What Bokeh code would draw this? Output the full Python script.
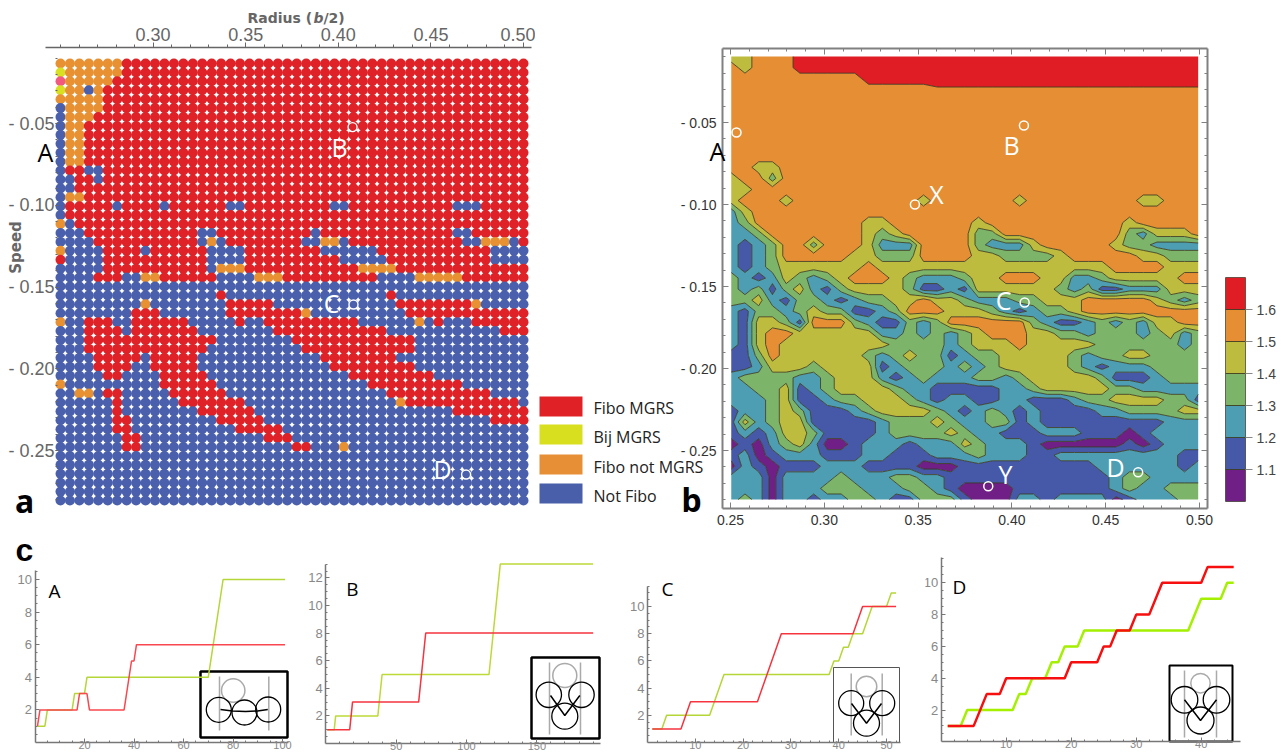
from math import pi
import numpy as np
from bokeh.embed import file_html
from bokeh.resources import INLINE
from bokeh.layouts import column, row
from bokeh.plotting import figure
from bokeh.models import (Range1d, FixedTicker, LinearAxis, Label, CustomLabelingPolicy)

# ---------------- panel a: class of each (speed, radius) sample ----------------
DOT_ROWS = [
 "R O:0-6", "R Y:0 O:1-6", "R P:0 O:1-5", "R Y:0 O:1-2 B:3 O:4", "R O:0-4",
 "R B:0 O:1-4", "R B:0 O:1-3", "R B:0 O:1-2", "R B:0 O:1-2", "R B:0 O:1-2",
 "R B:0 O:1-2", "R B:0 O:1-2", "R B:0,3-4", "R B:0-1,4", "R B:0-1",
 "R B:0 O:1-2", "R B:0,6,11,18-19,29-30,42-44", "R B:0", "R O:0 B:1",
 "R B:0-2,15-16,27,42-43",
 "R B:0-3,15,17,26-27,30,43-44,48 O:16,28-29,45-47",
 "R O:0 B:1-4,9,16-19,28-33,46-49",
 "R B:1-4,16-19,30-34,46-49",
 "R B:0-4,16 O:17-19,32-35",
 "R B:0-3,7-8,17-20,34-37 O:9-10,21-23,38-42",
 "B", "B R:17,35", "B O:9,44 R:18-22,36-43",
 "B R:8-10,18-25,37-49 O:26",
 "B O:0,38 R:3-5,8-13,19,22-31,40,44-49",
 "B R:3-6,8-14,23-34,47-49", "B R:3-16,25-37", "B R:3-15,26-37",
 "B R:4-8,10-14,28-35", "B R:4-7,10-14,29-37", "B R:5-6,11-15,31-39",
 "B O:0 R:11-16,33-42", "B O:2-3 R:5-6,12-17,35-45",
 "B O:36 R:6,13-19,37-48", "B R:6,15-20,42-49", "B R:6-7,17-21,46-49",
 "B R:6-7,19-23", "B R:7-8,22-24", "B O:30 R:7-8,25-26",
 "B", "B", "B", "B", "B", "B",
]
DOT_COLORS = {"R": "#DF2228", "Y": "#D9E021", "O": "#E89133", "B": "#4A60AC", "P": "#F15A7E"}
LEGEND_LABELS = ["Fibo MGRS", "Bij MGRS", "Fibo not MGRS", "Not Fibo"]
LEGEND_COLORS = ["#E02227", "#D7DF1F", "#E78F36", "#495FAA"]
RADIUS_A = np.linspace(0.25, 0.50, 50)
SPEED_A = np.linspace(-0.0133, -0.2806, 50)
POINTS_A = {"B": (0.4077, -0.0522), "C": (0.4082, -0.1607), "D": (0.4690, -0.2647)}

# ---------------- panel b: mean value band read at each grid node ----------------
BAND_ROWS = [
 "44555666666666666666666666666666666", "54555666666666666666666666666666666",
 "55555555556666677777777777777777777", "55555555555555555555555555555555555",
 "55555555555555555555555555555555555", "55555555555555555555555555555555555",
 "55555555555555555555555555555555555", "55555555555555555555555555555555555",
 "55555555555555555555555555555555555", "55555555555555555555555555555555555",
 "55445555555555555555555555555555555", "45535555555555555555555555555555555",
 "44555555555555555555555555555555555", "45554555555555455555545555555544555",
 "24555555555555555555555555555555555", "23555555554455555545555555555455555",
 "22355555554345555533555555555324445", "21235535554222555532224555554332222",
 "21235555544333555544333345555544333", "21234444445444444444444444445555444",
 "32124323455543222344555442234444455",
 "32313421344443112144444432311222444", "33421332123344544322233444555554323",
 "21332343311235554443212334555555555", "21443155532113235555553211232324455",
 "21455444444223232345554433233323423",
 "21454444444433332344454444433333323", "11354444443234331233444443233443333",
 "11244434444123332323444443212223333", "23333223444212322233234444431112333",
 "22334123444432211111223444443322222", "22234112334443212211221112334444331",
 "12234311123444432123212111122333344", "14234411111233343223312111111111222",
 "12124431111233334322111222111012222", "01023420012221222432221000000101222",
 "12012221112211122232221122222222211", "02101112221111000111111111122222212",
 "22202222322233221111111111112332222", "22202223332223321000011111112322333",
 "23202212233211333100022122220122233",
]
BAND_LEVELS = [1.0, 1.1, 1.2, 1.3, 1.4, 1.5, 1.6, 1.9]
BAND_COLORS = ["#6F1F85", "#4559A8", "#4D9EB3", "#7CB56A", "#BDBC3F", "#E58E33", "#E01D24"]
BAR_LEVELS = [1.0, 1.1, 1.2, 1.3, 1.4, 1.5, 1.6, 1.7]
RADIUS_B = np.linspace(0.2504, 0.4993, 35)
SPEED_B = np.linspace(-0.0098, -0.2799, 41)
POINTS_B = {"A": (0.2532, -0.0561), "B": (0.4064, -0.0518), "X": (0.3483, -0.1000),
            "C": (0.4068, -0.1598), "D": (0.4673, -0.2633), "Y": (0.3874, -0.2718)}

# ---------------- panel c: step curves ----------------
A_GREEN = ([1, 4, 5, 15, 16, 20, 21, 70, 76, 101], [1, 1, 2, 2, 3, 3, 4, 4, 10, 10])
A_RED = ([1, 2, 17, 18, 21, 22, 36, 39, 40, 41, 101], [1, 2, 2, 3, 3, 2, 2, 5, 5, 6, 6])
B_GREEN = ([1, 6, 7, 37, 40, 116, 124, 190], [1, 1, 2, 2, 5, 5, 13, 13])
B_RED = ([1, 17, 19, 66, 71, 190], [1, 1, 3, 3, 8, 8])
C_GREEN = ([1, 3, 4, 13, 16, 38, 39, 40, 41, 42, 43, 45, 47, 50, 51, 52],
           [1, 1, 2, 2, 5, 5, 6, 6, 7, 7, 8, 8, 10, 10, 11, 11])
C_RED = ([1, 7, 9, 23, 28, 43, 45, 52], [1, 1, 3, 3, 8, 8, 10, 10])
D_GREEN = ([1, 3, 4, 11, 12, 13, 14, 16, 17, 18, 19, 21, 22, 38, 40, 43, 44, 45],
           [1, 1, 2, 2, 3, 3, 4, 4, 5, 5, 6, 6, 7, 7, 9, 9, 10, 10])
D_RED = ([1, 5, 7, 9, 10, 19, 20, 24, 25, 26, 27, 29, 30, 32, 34, 40, 41, 45],
         [1, 1, 3, 3, 4, 4, 5, 5, 6, 6, 7, 7, 8, 8, 10, 10, 11, 11])

F_SANS = "Liberation Sans"
F_TXT = "Open Sans"
GRAY = "#666666"
NO_LABELS = CustomLabelingPolicy(code="for (const i of Array.from(indices)) indices.unset(i); return indices")


def parse_row(spec):
    parts = spec.split()
    cells = [parts[0]] * 50
    for part in parts[1:]:
        cat, spans = part.split(":")
        for span in spans.split(","):
            a, _, b = span.partition("-")
            for j in range(int(a), int(b or a) + 1):
                cells[j] = cat
    return cells


class Panel:
    """Figure whose plotting frame fills its whole canvas; the axes sit at fixed places inside it."""
    def __init__(self, canvas, xmap, ymap):
        self.xmap, self.ymap = xmap, ymap      # (data, px, px_per_unit), y grows downward
        self.cx0, self.cy0, cx1, cy1 = canvas
        self.p = figure(width=cx1 - self.cx0, height=cy1 - self.cy0,
                        x_range=Range1d(self.dx(self.cx0), self.dx(cx1)),
                        y_range=Range1d(self.dy(cy1), self.dy(self.cy0)),
                        min_border=0,
                        toolbar_location=None, output_backend="svg", tools="",
                        x_axis_type=None, y_axis_type=None, frame_align=False)
        self.p.outline_line_color = None
        self.p.grid.visible = False

    def dx(self, px):
        d, p0, k = self.xmap
        return d + (px - p0) / k

    def dy(self, py):
        d, p0, k = self.ymap
        return d - (py - p0) / k

    def label(self, px, py, text, size=25, color="black", font=F_TXT, style="normal",
              align="center", angle=0):
        self.p.add_layout(Label(x=self.dx(px), y=self.dy(py),
                                text=text, text_font=font,
                                text_font_size=f"{size}px", text_color=color,
                                text_font_style=style, text_align=align,
                                text_baseline="middle", angle=angle))

    def axis(self, side, at_px, span_px, ticks, minor, **kw):
        horizontal = side in ("above", "below")
        loc = self.dy(at_px) if horizontal else self.dx(at_px)
        conv = self.dx if horizontal else self.dy
        lo, hi = sorted((conv(span_px[0]), conv(span_px[1])))
        ax = LinearAxis(ticker=FixedTicker(ticks=ticks, minor_ticks=minor), fixed_location=loc,
                        bounds=(lo, hi), major_label_text_font=F_SANS, **kw)
        self.p.add_layout(ax, side)
        return ax


# ---------------- panel a ----------------
A = Panel((0, 0, 535, 530), (0.25, 60, 1852), (0.0, 41.25, 1635))
pa = A.p
xs, ys, cs = [], [], []
for i, spec in enumerate(DOT_ROWS):
    for j, c in enumerate(parse_row(spec)):
        xs.append(RADIUS_A[j]); ys.append(SPEED_A[i]); cs.append(DOT_COLORS[c])
pa.scatter(xs, ys, marker="circle", size=10, fill_color=cs, line_color=None)
ptx = [v[0] for v in POINTS_A.values()]
pty = [v[1] for v in POINTS_A.values()]
pa.scatter(ptx, pty, marker="circle", size=9, fill_color=None, line_color="white", line_width=1.4)

RAD_TICKS = [0.25, 0.30, 0.35, 0.40, 0.45, 0.50]
RAD_MINOR = [round(0.25 + 0.01 * k, 2) for k in range(26)]
RAD_TEXT = {t: f"{t:.2f}" for t in RAD_TICKS}
SPD_TICKS = [-0.05, -0.10, -0.15, -0.20, -0.25]
SPD_MINOR = [round(-0.01 * k, 2) for k in range(1, 29)]
SPD_TEXT = {t: f"- {abs(t):.2f}" for t in SPD_TICKS}

A.axis("above", 47, (45, 531), RAD_TICKS[1:], RAD_MINOR, major_label_overrides=RAD_TEXT,
       major_label_text_font_size="18px", major_label_text_color=GRAY, major_label_standoff=2,
       axis_line_color=GRAY, axis_line_width=1.5, major_tick_line_color=GRAY, minor_tick_line_color=GRAY,
       major_tick_in=0, major_tick_out=5, minor_tick_in=0, minor_tick_out=3)
A.axis("left", 55, (47, 507), SPD_TICKS, SPD_MINOR, major_label_overrides=SPD_TEXT,
       major_label_text_font_size="18px", major_label_text_color=GRAY, major_label_standoff=1,
       axis_line_color=None, major_tick_line_color=GRAY, minor_tick_line_color=GRAY,
       major_tick_in=3, major_tick_out=0, minor_tick_in=2, minor_tick_out=0)
A.label(247, 17, "Radius (", 14, GRAY, "DejaVu Sans", "bold", "left")
A.label(313, 17, "b", 14, GRAY, "DejaVu Sans", "bold italic", "left")
A.label(323, 17, "/2)", 14, GRAY, "DejaVu Sans", "bold", "left")
A.label(15, 247, "Speed", 15, GRAY, "DejaVu Sans", "bold", angle=pi / 2)
A.label(45, 151, "A")
A.label(339, 146, "B", color="white")
A.label(331, 302, "C", color="white")
A.label(442, 468, "D", color="white")
A.label(24, 500, "a", 32, style="bold", font="Noto Sans")

# ---------------- panel b (with the legend of panel a in its left margin) ----------------
B_ = Panel((535, 0, 1215, 530), (0.25, 730, 1876), (-0.05, 122, 1640))
pb = B_.p
z = 1.05 + 0.1 * np.array([[int(ch) for ch in r] for r in BAND_ROWS], dtype=float)
pb.contour(RADIUS_B, SPEED_B[::-1], z[::-1], BAND_LEVELS, fill_color=BAND_COLORS,
           line_color="#3A3A1E", line_alpha=0.85, line_width=1)
ptx = [v[0] for v in POINTS_B.values()]
pty = [v[1] for v in POINTS_B.values()]
pb.scatter(ptx, pty, marker="circle", size=9, fill_color=None, line_color="white", line_width=1.5)

BOX = "#808080"
FRAME_STYLE = dict(axis_line_color=BOX, axis_line_width=2, major_tick_line_color=BOX, minor_tick_line_color=BOX,
                   major_tick_in=6, major_tick_out=0, minor_tick_in=3, minor_tick_out=0,
                   major_label_text_font_size="14px", major_label_text_color="#333333", major_label_standoff=6)
B_.axis("above", 48, (722, 1207), RAD_TICKS, RAD_MINOR, major_label_policy=NO_LABELS, **FRAME_STYLE)
B_.axis("below", 508, (722, 1207), RAD_TICKS, RAD_MINOR, major_label_overrides=RAD_TEXT, **FRAME_STYLE)
B_.axis("left", 722, (48, 508), SPD_TICKS, SPD_MINOR, major_label_overrides=SPD_TEXT, **FRAME_STYLE)
B_.axis("right", 1207, (48, 508), SPD_TICKS, SPD_MINOR, major_label_policy=NO_LABELS, **FRAME_STYLE)
B_.label(717, 150, "A")
for name, (px, py) in {"B": (1011, 144), "X": (936, 193), "C": (1003, 299),
                       "D": (1115, 466), "Y": (1005, 473)}.items():
    B_.label(px, py, name, color="white")
B_.label(691, 499, "b", 32, style="bold", font="Noto Sans")

LEG_TOP = [396, 424, 454, 483]
LEG_TEXT_Y = [407, 436, 466, 495]
for t, ty, name, col in zip(LEG_TOP, LEG_TEXT_Y, LEGEND_LABELS, LEGEND_COLORS):
    pb.quad(left=B_.dx(539), right=B_.dx(582), top=B_.dy(t), bottom=B_.dy(t + 20),
            fill_color=col, line_color=None)
    B_.label(593, ty, name, 16, "#222222", align="left")

# ---------------- colour bar ----------------
cb = figure(width=70, height=530, x_range=Range1d(0, 1), y_range=Range1d(BAR_LEVELS[0], BAR_LEVELS[-1]),
            min_border_left=10, min_border_right=40, min_border_top=277, min_border_bottom=29,
            toolbar_location=None, output_backend="svg", tools="", x_axis_type=None, y_axis_type=None,
            frame_align=False)
cb.grid.visible = False
cb.outline_line_color = "#777777"
cb.quad(left=0, right=1, bottom=BAR_LEVELS[:-1], top=BAR_LEVELS[1:], fill_color=BAND_COLORS,
        line_color="#3A3A1E", line_alpha=0.8)
cb.add_layout(LinearAxis(ticker=FixedTicker(ticks=BAR_LEVELS[1:-1]), axis_line_color=None,
                         major_tick_line_color="#888888", major_tick_in=0, major_tick_out=7,
                         minor_tick_line_color=None, major_label_standoff=4,
                         major_label_text_font=F_SANS, major_label_text_font_size="14px",
                         major_label_text_color="#444444"), "right")

# ---------------- panel c ----------------
INSETS = {
 "A": dict(box=(200, 671, 287, 737), bw=2.5, edge="black",
           gray=(232.7, 690, 11.7), black=[(218.3, 709.3, 12.5), (244, 712, 12.5), (267.7, 709, 12.5)],
           rails=(219, 268.3, 676, 730), wire=[(220, 709), (232, 710.5), (245, 711), (257, 710.5), (267.3, 709)]),
 "B": dict(box=(531, 657, 599, 738), bw=2.5, edge="black",
           gray=(564.3, 675, 12), black=[(548.3, 694.3, 12.7), (581, 694.3, 12.7), (564.3, 715.7, 13)],
           rails=(549, 580, 662, 734), wire=[(550, 695), (564.3, 715), (579.3, 695)]),
 "C": dict(box=(833, 667, 899, 742), bw=1, edge="#555555",
           gray=(866, 686, 10.3), black=[(850.7, 702.7, 12.5), (881.7, 702.7, 12.5), (866, 722.7, 13)],
           rails=(850.7, 881.7, 673, 735), wire=[(851, 703), (866, 722.7), (881, 703)]),
 "D": dict(box=(1169, 665, 1232, 741), bw=2, edge="black",
           gray=(1200, 682.7, 9.7), black=[(1184, 699.3, 13.3), (1216, 699.3, 13.3), (1200, 720, 13.5)],
           rails=(1184, 1216, 670, 737), wire=[(1184, 699.3), (1200, 720), (1216, 699.3)]),
}

def step_panel(name, canvas, xmap, ymap, xticks, xminor, yticks, xend, yend,
               green, red, gcol, rcol, lw, letter_at):
    P = Panel(canvas, xmap, ymap)
    p = P.p
    ins = INSETS[name]
    b = ins["box"]
    p.quad(left=P.dx(b[0]), right=P.dx(b[2]), top=P.dy(b[1]), bottom=P.dy(b[3]), fill_color="white",
           line_color=ins["edge"], line_width=ins["bw"])
    for rx in ins["rails"][:2]:
        p.line([P.dx(rx)] * 2, [P.dy(ins["rails"][2]), P.dy(ins["rails"][3])], line_color="#AAAAAA", line_width=1.5)
    gx, gy, gr = ins["gray"]
    p.scatter([P.dx(gx)], [P.dy(gy)], marker="circle", size=2 * gr, fill_color=None, line_color="#AAAAAA", line_width=1.5)
    for cx, cy, cr in ins["black"]:
        p.scatter([P.dx(cx)], [P.dy(cy)], marker="circle", size=2 * cr, fill_color=None, line_color="black", line_width=1.3)
    p.line([P.dx(q[0]) for q in ins["wire"]], [P.dy(q[1]) for q in ins["wire"]], line_color="black", line_width=1.5)
    p.line(*green, line_color=gcol, line_width=lw)
    p.line(*red, line_color=rcol, line_width=lw)
    common = dict(axis_line_color="#777777", axis_line_width=1.5, major_tick_line_color="#777777",
                  minor_tick_line_color="#777777", major_tick_in=4, major_tick_out=0,
                  minor_tick_in=2, minor_tick_out=0, major_label_text_color="#888888")
    yminor = [k / 2 for k in range(1, 27) if k / 2 <= yend]
    xa = LinearAxis(ticker=FixedTicker(ticks=xticks, minor_ticks=xminor), fixed_location=0,
                    bounds=(0, xend), major_label_standoff=-2, major_label_text_font=F_SANS,
                    major_label_text_font_size="11px", **common)
    ya = LinearAxis(ticker=FixedTicker(ticks=yticks, minor_ticks=yminor), fixed_location=0, bounds=(0, yend),
                    major_label_standoff=3, major_label_text_font=F_SANS,
                    major_label_text_font_size="13px", **common)
    p.add_layout(xa, "below")
    p.add_layout(ya, "left")
    P.label(letter_at[0], letter_at[1], name, 19)
    return P

H = 753
PA = step_panel("A", (0, 530, 305, H), (0, 34.5, 2.475), (0, 742, 16.3),
                [20, 40, 60, 80, 100], list(range(5, 101, 5)), [2, 4, 6, 8, 10], 102.4, 10.55,
                A_GREEN, A_RED, "#B4D637", "#F9474F", 1.5, (54, 590))
PB = step_panel("B", (305, 530, 625, H), (0, 325.3, 1.407), (0, 743, 13.8),
                [50, 100, 150], list(range(10, 191, 10)), [2, 4, 6, 8, 10, 12], 195.5, 13.0,
                B_GREEN, B_RED, "#BCD938", "#F5343F", 1.5, (352, 588))
PC = step_panel("C", (625, 530, 925, H), (0, 647, 4.78), (0, 742, 13.6),
                [10, 20, 30, 40, 50], list(range(2, 53, 2)), [2, 4, 6, 8, 10], 53, 11.5,
                C_GREEN, C_RED, "#B4D637", "#F5343F", 1.5, (667, 588))
PD = step_panel("D", (925, 530, 1285, H), (0, 940.7, 6.5), (0, 741.3, 15.9),
                [10, 20, 30, 40], list(range(2, 46, 2)), [2, 4, 6, 8, 10], 46, 11.6,
                D_GREEN, D_RED, "#A4F000", "#F70F0F", 2.5, (959, 586))
PA.label(24, 549, "c", 32, style="bold", font=F_SANS)

top_row = row(pa, pb, cb)
bottom_row = row(PA.p, PB.p, PC.p, PD.p)
page = column(top_row, bottom_row)
open("out.html", "w").write(file_html(page, INLINE))
